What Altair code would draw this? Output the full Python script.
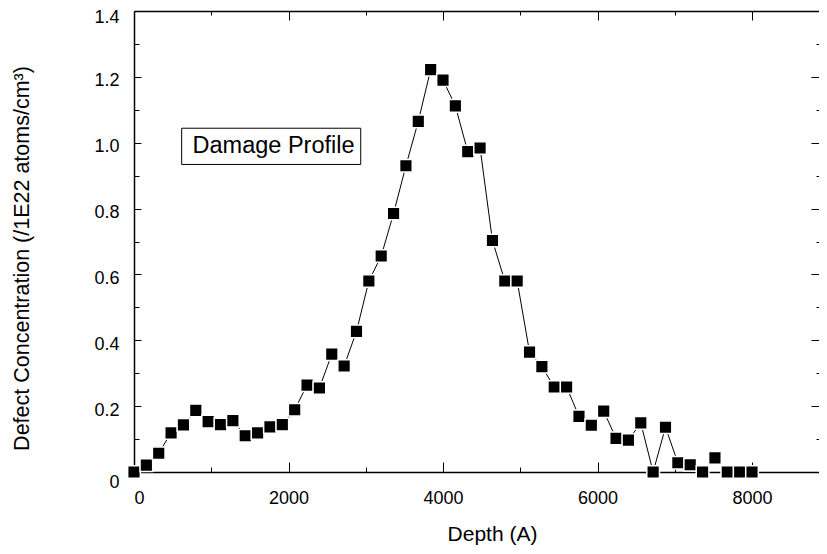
import altair as alt
import pandas as pd

depth = [0, 160, 320, 480, 640, 800, 960, 1120, 1280, 1440, 1600, 1760, 1920,
         2080, 2240, 2400, 2560, 2720, 2880, 3040, 3200, 3360, 3520, 3680, 3840,
         4000, 4160, 4320, 4480, 4640, 4800, 4960, 5120, 5280, 5440, 5600, 5760,
         5920, 6080, 6240, 6400, 6560, 6720, 6880, 7040, 7200, 7360, 7520, 7680,
         7840, 8000]
conc = [0.0, 0.021, 0.057, 0.119, 0.143, 0.187, 0.153, 0.144, 0.156, 0.110,
        0.119, 0.137, 0.144, 0.189, 0.264, 0.255, 0.358, 0.322, 0.427, 0.580,
        0.656, 0.785, 0.930, 1.065, 1.222, 1.190, 1.112, 0.973, 0.984, 0.703,
        0.580, 0.580, 0.364, 0.320, 0.258, 0.258, 0.169, 0.142, 0.185, 0.102,
        0.097, 0.149, 0.0, 0.136, 0.028, 0.022, 0.0, 0.043, 0.0, 0.0, 0.0]

x_major = [0, 2000, 4000, 6000, 8000]
x_minor = [1000, 3000, 5000, 7000]
y_major = [0, 0.2, 0.4, 0.6, 0.8, 1.0, 1.2, 1.4]
y_minor = [0.1, 0.3, 0.5, 0.7, 0.9, 1.1, 1.3]

label_text = ["Damage Profile"]
label_x = [1806]
label_y = [0.99]
box_x = [617]
box_x2 = [2935]
box_y = [1.044]
box_y2 = [0.934]

W, H = 685, 461
FONT = "Liberation Sans"

df = pd.DataFrame({"depth": depth, "conc": conc})
xscale = alt.Scale(domain=[0, 8867], nice=False, zero=False)
yscale = alt.Scale(domain=[0, 1.4], nice=False, zero=False)


def tick_axis(orient, values, size, offset):
    return alt.Axis(orient=orient, values=values, tickSize=size, offset=offset,
                    labels=False, domain=False, grid=False, title=None,
                    tickColor="black", tickWidth=1)


def axis_layer(xaxis, yaxis):
    return alt.Chart(df).mark_point(opacity=0).encode(
        x=alt.X("depth:Q", scale=xscale, axis=xaxis),
        y=alt.Y("conc:Q", scale=yscale, axis=yaxis),
    )


x_main = alt.Axis(
    orient="bottom", values=x_major, format="d", ticks=False, domain=True,
    domainColor="black", domainWidth=1.5, grid=False,
    labelFont=FONT, labelFontSize=18, labelColor="black", labelPadding=17,
    title="Depth (A)", titleFont=FONT, titleFontSize=21, titleFontWeight="normal",
    titleColor="black", titleX=358, titleY=62, titleBaseline="middle",
    titleAlign="center",
)
y_main = alt.Axis(
    orient="left", values=y_major, ticks=False, domain=True,
    domainColor="black", domainWidth=1.5, grid=False,
    labelExpr="datum.value == 0 ? '0' : format(datum.value, '.1f')",
    labelFont=FONT, labelFontSize=18, labelColor="black", labelPadding=15,
    labelOffset={"condition": [{"test": "datum.value == 0", "value": 10},
                               {"test": "datum.value == 1.4", "value": 6}],
                 "value": 4},
    title="Defect Concentration (/1E22 atoms/cm³)", titleFont=FONT,
    titleFontSize=21.5, titleFontWeight="normal", titleColor="black",
    titleX=-112, titleY=247, titleBaseline="middle", titleAlign="center",
    titleAngle=270,
)
x_top = alt.Axis(orient="top", ticks=False, labels=False, domain=True,
                 domainColor="black", domainWidth=1.5, grid=False, title=None)

line = alt.Chart(df).mark_line(color="black", strokeWidth=1).encode(
    x=alt.X("depth:Q", scale=xscale, axis=x_main),
    y=alt.Y("conc:Q", scale=yscale, axis=y_main),
)

l2 = axis_layer(x_top, tick_axis("right", y_major, 7, -W))
l3 = axis_layer(tick_axis("top", x_major, 10, -H), tick_axis("right", y_minor, 5, -W))
l4 = axis_layer(tick_axis("top", x_minor, 5, -H), tick_axis("left", y_major, 8, -W))
l5 = axis_layer(tick_axis("bottom", x_major, 9, -H), tick_axis("left", y_minor, 3, -W))
l6 = axis_layer(tick_axis("bottom", x_minor, 4, -H), None)

points = alt.Chart(df).mark_square(
    size=160, filled=True, fill="black", stroke="white", strokeWidth=1.5,
    opacity=1, clip=False
).encode(
    x=alt.X("depth:Q", scale=xscale, axis=None),
    y=alt.Y("conc:Q", scale=yscale, axis=None),
)

box_df = pd.DataFrame({"x": box_x, "x2": box_x2, "y": box_y, "y2": box_y2})
box = alt.Chart(box_df).mark_rect(fill="white", stroke="black", strokeWidth=1).encode(
    x=alt.X("x:Q", scale=xscale, axis=None),
    x2="x2:Q",
    y=alt.Y("y:Q", scale=yscale, axis=None),
    y2="y2:Q",
)

text_df = pd.DataFrame({"t": label_text, "x": label_x, "y": label_y})
text = alt.Chart(text_df).mark_text(
    font=FONT, fontSize=23.5, color="black", align="center", baseline="middle"
).encode(
    x=alt.X("x:Q", scale=xscale, axis=None),
    y=alt.Y("y:Q", scale=yscale, axis=None),
    text="t:N",
)

chart = alt.layer(l2, l3, l4, l5, l6, line, points, box, text).resolve_axis(
    x="independent", y="independent"
).properties(
    width=W, height=H,
    autosize=alt.AutoSizeParams(type="none"),
    padding={"left": 126, "top": 3, "right": 0, "bottom": 74},
).configure_view(stroke=None).configure(background="white")

chart.save("out.html", embed_options={"renderer": "svg", "actions": False})
